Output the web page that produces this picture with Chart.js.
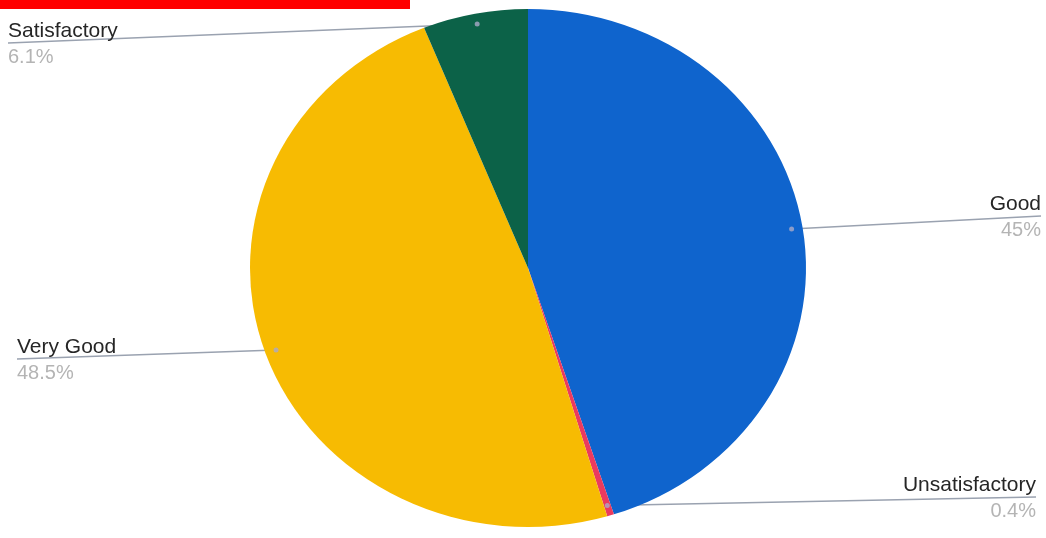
<!DOCTYPE html>
<html>
  <head>
    <title>Rating</title>
    <script src="https://cdn.jsdelivr.net/npm/chart.js"></script>
    <style>
      body { margin: 0; background: #fff; }
      #wrap { position: relative; width: 1046px; height: 538px; }
      #bar { position: absolute; left: 0; top: 0; width: 410px; height: 9px; background: #ff0000; }
    </style>
  </head>
  <body>
    <div id="wrap">
      <canvas id="myChart" width="1046" height="538"></canvas>
      <div id="bar"></div>
    </div>

    <script>
      const labels = ["Good", "Unsatisfactory", "Very Good", "Satisfactory"];
      const values = [45, 0.4, 48.5, 6.1];
      const valueLabels = ["45%", "0.4%", "48.5%", "6.1%"];
      const colors = ["#0f64cd", "#eb3a5e", "#f7bb02", "#0c6248"];

      // where each label text sits and which side it is aligned to
      const labelPos = [
        { x: 1041, y: 210, align: "right" },
        { x: 1036, y: 491, align: "right" },
        { x: 17, y: 353, align: "left" },
        { x: 8, y: 37, align: "left" },
      ];

      const stretchX = 278 / 259;

      function pointOnSlice(arc, k) {
        const mid = (arc.startAngle + arc.endAngle) / 2;
        const r = arc.outerRadius * k;
        return {
          x: arc.x + Math.cos(mid) * r * stretchX,
          y: arc.y + Math.sin(mid) * r,
        };
      }

      const leaderLines = {
        id: "leaderLines",
        beforeDatasetsDraw(chart) {
          const ctx = chart.ctx;
          const arcs = chart.getDatasetMeta(0).data;
          ctx.save();
          ctx.strokeStyle = "#9aa2b0";
          ctx.lineWidth = 1.5;
          arcs.forEach((arc, i) => {
            const p = pointOnSlice(arc, 0.96);
            const l = labelPos[i];
            ctx.beginPath();
            ctx.moveTo(l.x, l.y + 6);
            ctx.lineTo(p.x, p.y);
            ctx.stroke();
          });
          ctx.restore();

          // squash the round pie into the slightly wide oval
          const c = arcs[0];
          ctx.save();
          ctx.translate(c.x, c.y);
          ctx.scale(stretchX, 1);
          ctx.translate(-c.x, -c.y);
        },
        afterDatasetsDraw(chart) {
          const ctx = chart.ctx;
          ctx.restore();
          const arcs = chart.getDatasetMeta(0).data;
          ctx.save();
          arcs.forEach((arc, i) => {
            const p = pointOnSlice(arc, 0.96);
            ctx.fillStyle = "rgba(170,170,200,0.8)";
            ctx.beginPath();
            ctx.arc(p.x, p.y, 2.5, 0, Math.PI * 2);
            ctx.fill();

            const l = labelPos[i];
            ctx.textAlign = l.align;
            ctx.textBaseline = "alphabetic";
            ctx.font = "21px Arial, 'Liberation Sans', sans-serif";
            ctx.fillStyle = "#262626";
            ctx.fillText(labels[i], l.x, l.y);
            ctx.font = "20px Arial, 'Liberation Sans', sans-serif";
            ctx.fillStyle = "#b4b4b4";
            ctx.fillText(valueLabels[i], l.x, l.y + 26);
          });
          ctx.restore();
        },
      };

      const ctx = document.getElementById("myChart").getContext("2d");
      const myChart = new Chart(ctx, {
        type: "pie",
        data: {
          labels: labels,
          datasets: [
            {
              data: values,
              backgroundColor: colors,
              borderWidth: 0,
            },
          ],
        },
        options: {
          responsive: false,
          animation: false,
          layout: { padding: { left: 269, right: 259, top: 9, bottom: 11 } },
          plugins: {
            legend: { display: false },
            tooltip: { enabled: false },
          },
        },
        plugins: [leaderLines],
      });
    </script>
  </body>
</html>
